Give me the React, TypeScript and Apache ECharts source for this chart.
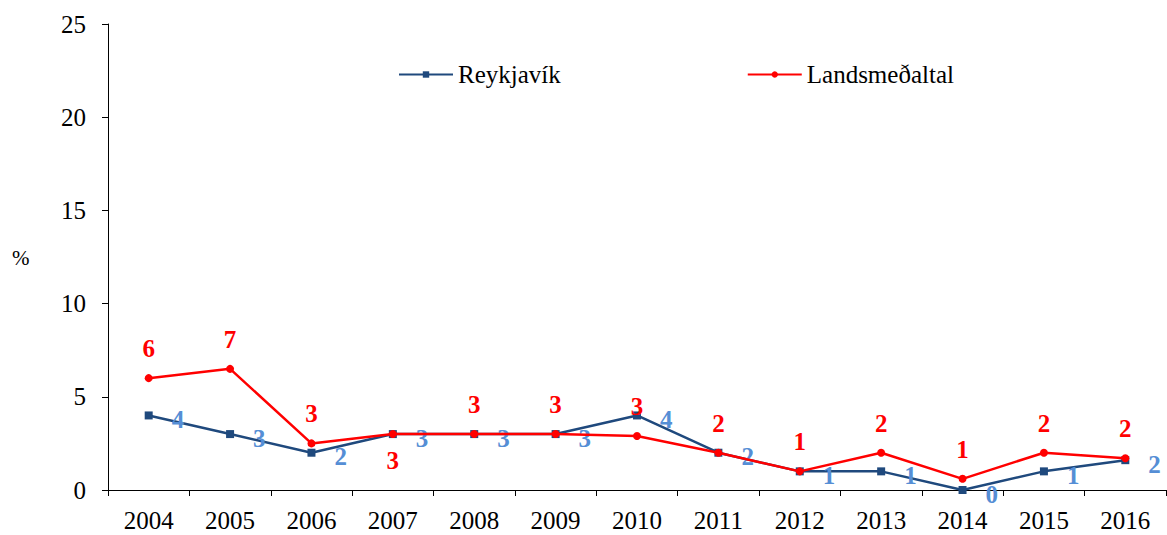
import React, { useEffect, useRef } from "react";
import * as echarts from "echarts";

const years = ["2004", "2005", "2006", "2007", "2008", "2009", "2010", "2011", "2012", "2013", "2014", "2015", "2016"];
const reykjavik = [4, 3, 2, 3, 3, 3, 4, 2, 1, 1, 0, 1, 1.6];
const landsmedaltal = [6, 6.5, 2.5, 3, 3, 3, 2.9, 2, 1, 2, 0.6, 2, 1.7];
const yTicks = { min: 0, max: 25, interval: 5 };

const FONT = "Liberation Serif";

export default function App() {
  const ref = useRef<HTMLDivElement>(null);
  useEffect(() => {
    if (!ref.current) return;
    const chart = echarts.init(ref.current, undefined, { renderer: "svg" });
    const roundFmt = (p: any) => String(Math.round(p.value));
    chart.setOption({
      animation: false,
      textStyle: { fontFamily: FONT },
      grid: { left: 108, right: 1, top: 24, bottom: 45, containLabel: false },
      legend: {
        top: 57,
        left: 393,
        itemGap: 186,
        itemWidth: 54,
        itemHeight: 8,
        textStyle: { fontFamily: FONT, fontSize: 25, color: "#000" },
        data: ["Reykjavík", "Landsmeðaltal"],
      },
      graphic: [
        {
          type: "text",
          left: 12,
          top: 247,
          style: { text: "%", fontFamily: FONT, fontSize: 21, fill: "#000" },
        },
      ],
      xAxis: {
        type: "category",
        data: years,
        boundaryGap: true,
        axisLine: { lineStyle: { color: "#000", width: 1 } },
        axisTick: { show: true, length: 6, alignWithLabel: false, lineStyle: { color: "#000" } },
        axisLabel: { color: "#000", fontSize: 25, fontFamily: FONT, margin: 18 },
      },
      yAxis: {
        type: "value",
        min: yTicks.min,
        max: yTicks.max,
        interval: yTicks.interval,
        splitLine: { show: false },
        axisLine: { show: true, lineStyle: { color: "#000", width: 1 } },
        axisTick: { show: true, length: 6, lineStyle: { color: "#000" } },
        axisLabel: { color: "#000", fontSize: 25, fontFamily: FONT, margin: 22 },
      },
      series: [
        {
          name: "Reykjavík",
          type: "line",
          data: reykjavik,
          symbol: "rect",
          symbolSize: 8,
          itemStyle: { color: "#1F497D" },
          lineStyle: { color: "#1F497D", width: 2.5 },
          label: {
            show: true,
            position: "right",
            distance: 19,
            offset: [0, 4],
            formatter: roundFmt,
            color: "#558ED5",
            fontSize: 25,
            fontWeight: "bold",
            fontFamily: FONT,
          },
          z: 2,
        },
        {
          name: "Landsmeðaltal",
          type: "line",
          data: landsmedaltal.map((v, i) =>
            i === 3 ? { value: v, label: { position: "bottom", distance: 10 } } : v
          ),
          symbol: "circle",
          symbolSize: 8,
          itemStyle: { color: "#FF0000" },
          lineStyle: { color: "#FF0000", width: 2.5 },
          label: {
            show: true,
            position: "top",
            distance: 13,
            formatter: roundFmt,
            color: "#FF0000",
            fontSize: 25,
            fontWeight: "bold",
            fontFamily: FONT,
          },
          z: 3,
        },
      ],
    });
    return () => chart.dispose();
  }, []);
  return <div ref={ref} style={{ width: 1167, height: 535, position: "absolute", left: 0, top: 0 }} />;
}
